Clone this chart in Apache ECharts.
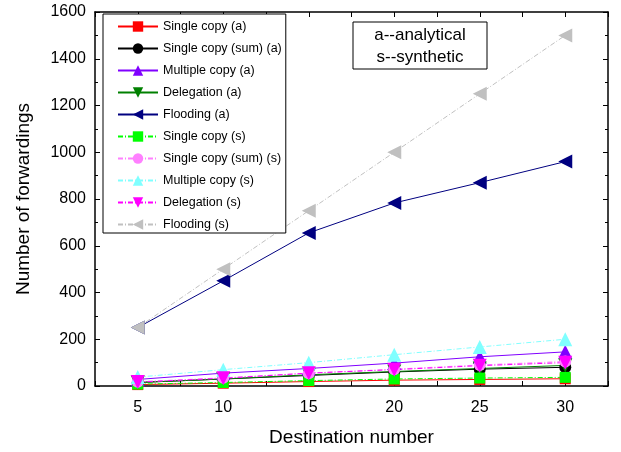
<!DOCTYPE html>
<html><head><meta charset="utf-8">
<script src="https://cdn.jsdelivr.net/npm/echarts@6/dist/echarts.min.js"></script>
<style>html,body{margin:0;padding:0;background:#fff}#c{width:621px;height:452px}</style>
</head><body><div id="c"></div>
<script>
var xValues = [5, 10, 15, 20, 25, 30];
var singleCopyA = [6, 12, 19, 25, 28, 31];
var singleSumA = [15, 30, 45, 60, 72, 80];
var multiCopyA = [28, 55, 75, 98, 125, 146];
var delegationA = [15, 30, 48, 62, 75, 88];
var floodingA = [250, 450, 655, 783, 870, 960];
var singleCopyS = [8, 15, 23, 30, 34, 37];
var singleSumS = [18, 35, 55, 72, 90, 105];
var multiCopyS = [38, 70, 100, 134, 167, 200];
var delegationS = [17, 33, 55, 70, 87, 100];
var floodingS = [250, 500, 750, 1000, 1250, 1500];
var seriesNames = ['Single copy (a)', 'Single copy (sum) (a)', 'Multiple copy (a)', 'Delegation (a)', 'Flooding (a)',
  'Single copy (s)', 'Single copy (sum) (s)', 'Multiple copy (s)', 'Delegation (s)', 'Flooding (s)'];
var yTicks = [0, 200, 400, 600, 800, 1000, 1200, 1400, 1600];

var FONT = '"Liberation Sans", Arial, sans-serif';
var dashDot = [5, 2, 1, 2];
var defs = [
  [singleCopyA, '#ff0000', 'rect', 0, 'solid', 11],
  [singleSumA, '#000000', 'circle', 0, 'solid', 12],
  [multiCopyA, '#8000ff', 'triangle', 0, 'solid', 14],
  [delegationA, '#008000', 'triangle', 180, 'solid', 14],
  [floodingA, '#000080', 'triangle', 90, 'solid', 14],
  [singleCopyS, '#00ff00', 'rect', 0, dashDot, 11],
  [singleSumS, '#ff80ff', 'circle', 0, dashDot, 12],
  [multiCopyS, '#80ffff', 'triangle', 0, dashDot, 14],
  [delegationS, '#ff00ff', 'triangle', 180, dashDot, 14],
  [floodingS, '#c0c0c0', 'triangle', 90, dashDot, 14]
];
var series = defs.map(function (d, i) {
  return {
    name: seriesNames[i], type: 'line',
    data: xValues.map(function (x, j) { return [x, d[0][j]]; }),
    symbol: d[2], symbolRotate: d[3], symbolSize: d[5],
    itemStyle: { color: d[1] },
    lineStyle: { color: d[1], width: 1, type: d[4] },
    animation: false
  };
});
var tickStyle = { show: true, inside: true, length: 5, lineStyle: { color: '#000', width: 1 } };
var minorStyle = { show: true, splitNumber: 2, length: 3, lineStyle: { color: '#000', width: 1 } };
var lineAx = { show: true, onZero: false, lineStyle: { color: '#000', width: 1.5 } };
var chart = echarts.init(document.getElementById('c'), null, { renderer: 'canvas' });
chart.setOption({
  animation: false,
  grid: { left: 95, right: 13, top: 12, bottom: 65, containLabel: false },
  xAxis: [{
    type: 'value', min: 2.5, max: 32.5, interval: 2.5, position: 'bottom',
    name: 'Destination number', nameLocation: 'middle', nameGap: 42,
    nameTextStyle: { fontFamily: FONT, fontSize: 19, color: '#000' },
    axisLine: lineAx, axisTick: tickStyle, splitLine: { show: false },
    axisLabel: { fontFamily: FONT, fontSize: 16, color: '#000', margin: 14,
      formatter: function (v) { return (Math.abs(v % 5) < 1e-9) ? String(v) : ''; } }
  }, {
    type: 'value', min: 2.5, max: 32.5, interval: 2.5, position: 'top',
    axisLine: lineAx, axisTick: tickStyle, splitLine: { show: false }, axisLabel: { show: false }
  }],
  yAxis: [{
    type: 'value', min: 0, max: 1600, interval: 200, position: 'left',
    name: 'Number of forwardings', nameLocation: 'middle', nameGap: 62, nameRotate: 90,
    nameTextStyle: { fontFamily: FONT, fontSize: 19, color: '#000' },
    axisLine: lineAx, axisTick: tickStyle, minorTick: minorStyle, splitLine: { show: false },
    axisLabel: { fontFamily: FONT, fontSize: 16, color: '#000', margin: 9,
      formatter: function (v) { return yTicks.indexOf(v) >= 0 ? String(v) : ''; } }
  }, {
    type: 'value', min: 0, max: 1600, interval: 200, position: 'right',
    axisLine: lineAx, axisTick: tickStyle, minorTick: minorStyle, splitLine: { show: false }, axisLabel: { show: false }
  }],
  legend: {
    orient: 'vertical', left: 103, top: 14,
    padding: [6, 4, 2, 14],
    borderColor: '#000', borderWidth: 1, backgroundColor: '#fff',
    itemWidth: 40, itemHeight: 13, itemGap: 9,
    textStyle: { fontFamily: FONT, fontSize: 12.5, color: '#000', padding: [0, 0, 0, 0] },
    data: seriesNames
  },
  graphic: [{
    type: 'rect', shape: { x: 353, y: 22, width: 134, height: 47 },
    style: { fill: '#fff', stroke: '#000', lineWidth: 1 }, z: 100
  }, {
    type: 'text', x: 420, y: 35, z: 101,
    style: { text: 'a--analytical', fontFamily: FONT, fontSize: 17, fill: '#000', align: 'center', verticalAlign: 'middle' }
  }, {
    type: 'text', x: 420, y: 57, z: 101,
    style: { text: 's--synthetic', fontFamily: FONT, fontSize: 17, fill: '#000', align: 'center', verticalAlign: 'middle' }
  }],
  series: series
});
</script></body></html>
